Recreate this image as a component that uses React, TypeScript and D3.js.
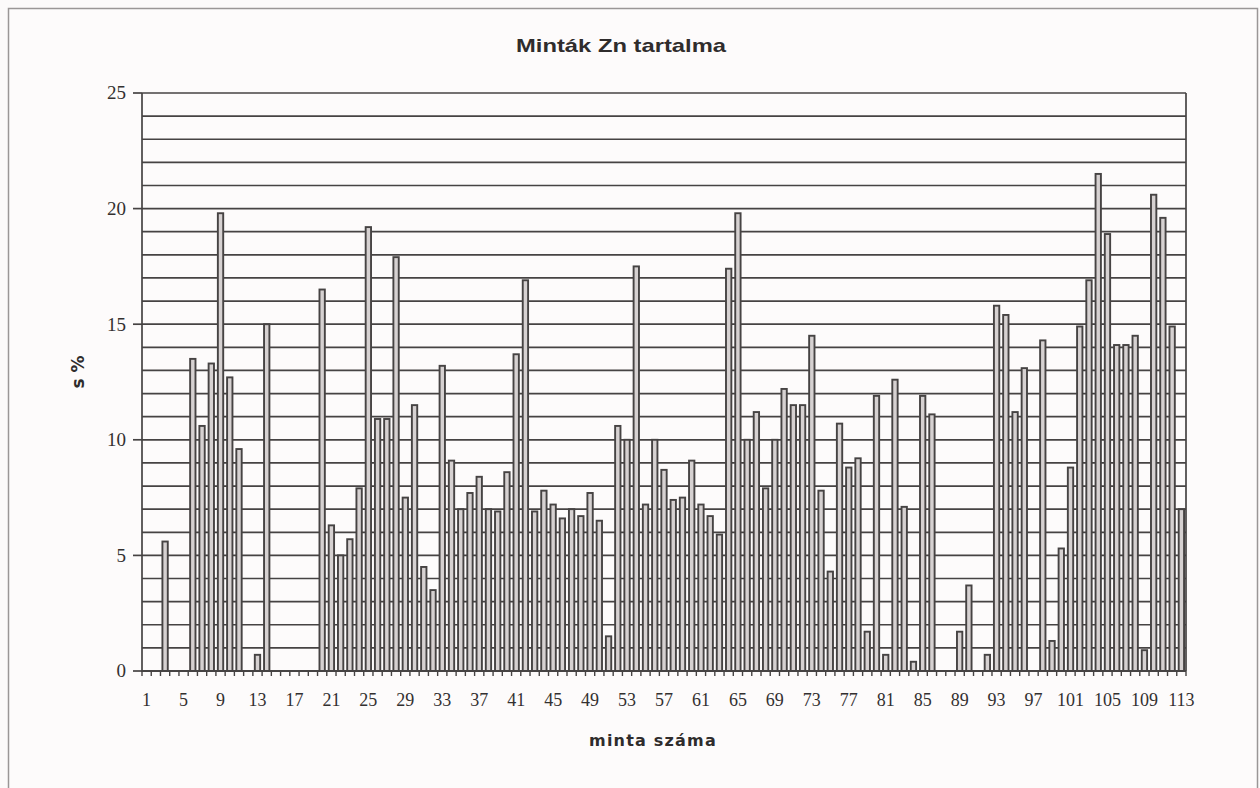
import React from 'react'
import * as d3 from 'd3'

// minta száma 1..113
const samples: string[] = d3.range(1, 114).map((n) => String(n))

// Zn tartalom (s %), sorban a mintákhoz
const znValues: number[] = [
  0, 0, 5.6, 0, 0, 13.5, 10.6, 13.3, 19.8, 12.7,
  9.6, 0, 0.7, 15.0, 0, 0, 0, 0, 0, 16.5,
  6.3, 5.0, 5.7, 7.9, 19.2, 10.9, 10.9, 17.9, 7.5, 11.5,
  4.5, 3.5, 13.2, 9.1, 7.0, 7.7, 8.4, 7.0, 6.9, 8.6,
  13.7, 16.9, 6.9, 7.8, 7.2, 6.6, 7.0, 6.7, 7.7, 6.5,
  1.5, 10.6, 10.0, 17.5, 7.2, 10.0, 8.7, 7.4, 7.5, 9.1,
  7.2, 6.7, 5.9, 17.4, 19.8, 10.0, 11.2, 7.9, 10.0, 12.2,
  11.5, 11.5, 14.5, 7.8, 4.3, 10.7, 8.8, 9.2, 1.7, 11.9,
  0.7, 12.6, 7.1, 0.4, 11.9, 11.1, 0, 0, 1.7, 3.7,
  0, 0.7, 15.8, 15.4, 11.2, 13.1, 0, 14.3, 1.3, 5.3,
  8.8, 14.9, 16.9, 21.5, 18.9, 14.1, 14.1, 14.5, 0.9, 20.6,
  19.6, 14.9, 7.0,
]

// minden negyedik minta kap feliratot
const xTickLabels: string[] = samples.filter((_, i) => i % 4 === 0)
const yTickLabels: number[] = [0, 5, 10, 15, 20, 25]

const WIDTH = 1260
const HEIGHT = 788
const PLOT = { left: 142, right: 1186, top: 93, bottom: 671 }
const LINE = '#464343'

export default function App() {
  const xScale = d3
    .scaleBand<string>()
    .domain(samples)
    .range([PLOT.left, PLOT.right])
    .paddingInner(0.42)
    .paddingOuter(0.21)

  const yScale = d3.scaleLinear().domain([0, 25]).range([PLOT.bottom, PLOT.top])

  const step = xScale.step()
  const bw = xScale.bandwidth()
  const gridValues = yScale.ticks(25)

  return (
    <svg
      width={WIDTH}
      height={HEIGHT}
      style={{ position: 'absolute', left: 0, top: 0, background: '#fcfafa' }}
    >
      {/* outer frame */}
      <rect x={8.5} y={8.5} width={1249} height={790} fill="#fdfbfb" stroke="#9a9696" strokeWidth={1.5} />

      <text
        x={621}
        y={52}
        textAnchor="middle"
        fontFamily="Liberation Sans, Arial, sans-serif"
        fontWeight="bold"
        fontSize={19}
        textLength={210}
        lengthAdjust="spacingAndGlyphs"
        fill="#2f2c2c"
      >
        Minták Zn tartalma
      </text>

      {/* grid every 1 unit */}
      {gridValues.map((v) => (
        <line
          key={'g' + v}
          x1={PLOT.left}
          x2={PLOT.right}
          y1={yScale(v)}
          y2={yScale(v)}
          stroke={LINE}
          strokeWidth={1.7}
        />
      ))}
      <line x1={PLOT.right} x2={PLOT.right} y1={PLOT.top} y2={PLOT.bottom} stroke={LINE} strokeWidth={1.7} />

      {/* bars */}
      {znValues.map((v, i) =>
        v > 0 ? (
          <rect
            key={'b' + i}
            x={xScale(samples[i])}
            y={yScale(v)}
            width={bw}
            height={yScale(0) - yScale(v)}
            fill="#d6d1d1"
            stroke={LINE}
            strokeWidth={1.9}
          />
        ) : null
      )}

      {/* y axis */}
      <line x1={PLOT.left} x2={PLOT.left} y1={PLOT.top} y2={PLOT.bottom + 1} stroke={LINE} strokeWidth={1.7} />
      {yTickLabels.map((v) => (
        <g key={'y' + v}>
          <line x1={PLOT.left - 9} x2={PLOT.left} y1={yScale(v)} y2={yScale(v)} stroke={LINE} strokeWidth={1.7} />
          <text
            x={PLOT.left - 16}
            y={yScale(v)}
            dy="0.34em"
            textAnchor="end"
            fontFamily="Liberation Serif, Times New Roman, serif"
            fontSize={19}
            fill="#333030"
          >
            {v}
          </text>
        </g>
      ))}

      {/* x axis */}
      <line x1={PLOT.left} x2={PLOT.right} y1={PLOT.bottom} y2={PLOT.bottom} stroke={LINE} strokeWidth={1.9} />
      {samples.map((s) => {
        const x0 = (xScale(s) as number) + bw / 2 - step / 2
        return <line key={'t' + s} x1={x0} x2={x0} y1={PLOT.bottom} y2={PLOT.bottom + 5} stroke={LINE} strokeWidth={1.4} />
      })}
      <line x1={PLOT.right} x2={PLOT.right} y1={PLOT.bottom} y2={PLOT.bottom + 5} stroke={LINE} strokeWidth={1.4} />
      {xTickLabels.map((s) => (
        <text
          key={'xl' + s}
          x={(xScale(s) as number) + bw / 2}
          y={706}
          textAnchor="middle"
          fontFamily="Liberation Serif, Times New Roman, serif"
          fontSize={18}
          fill="#333030"
        >
          {s}
        </text>
      ))}

      <text
        x={653}
        y={746}
        textAnchor="middle"
        fontFamily="DejaVu Sans, Verdana, sans-serif"
        fontWeight="bold"
        fontSize={16}
        letterSpacing={1.2}
        fill="#2f2c2c"
      >
        minta száma
      </text>

      <text
        transform="translate(84,372) rotate(-90)"
        textAnchor="middle"
        fontFamily="DejaVu Sans, Verdana, sans-serif"
        fontWeight="bold"
        fontSize={17}
        fill="#2f2c2c"
      >
        s %
      </text>
    </svg>
  )
}
